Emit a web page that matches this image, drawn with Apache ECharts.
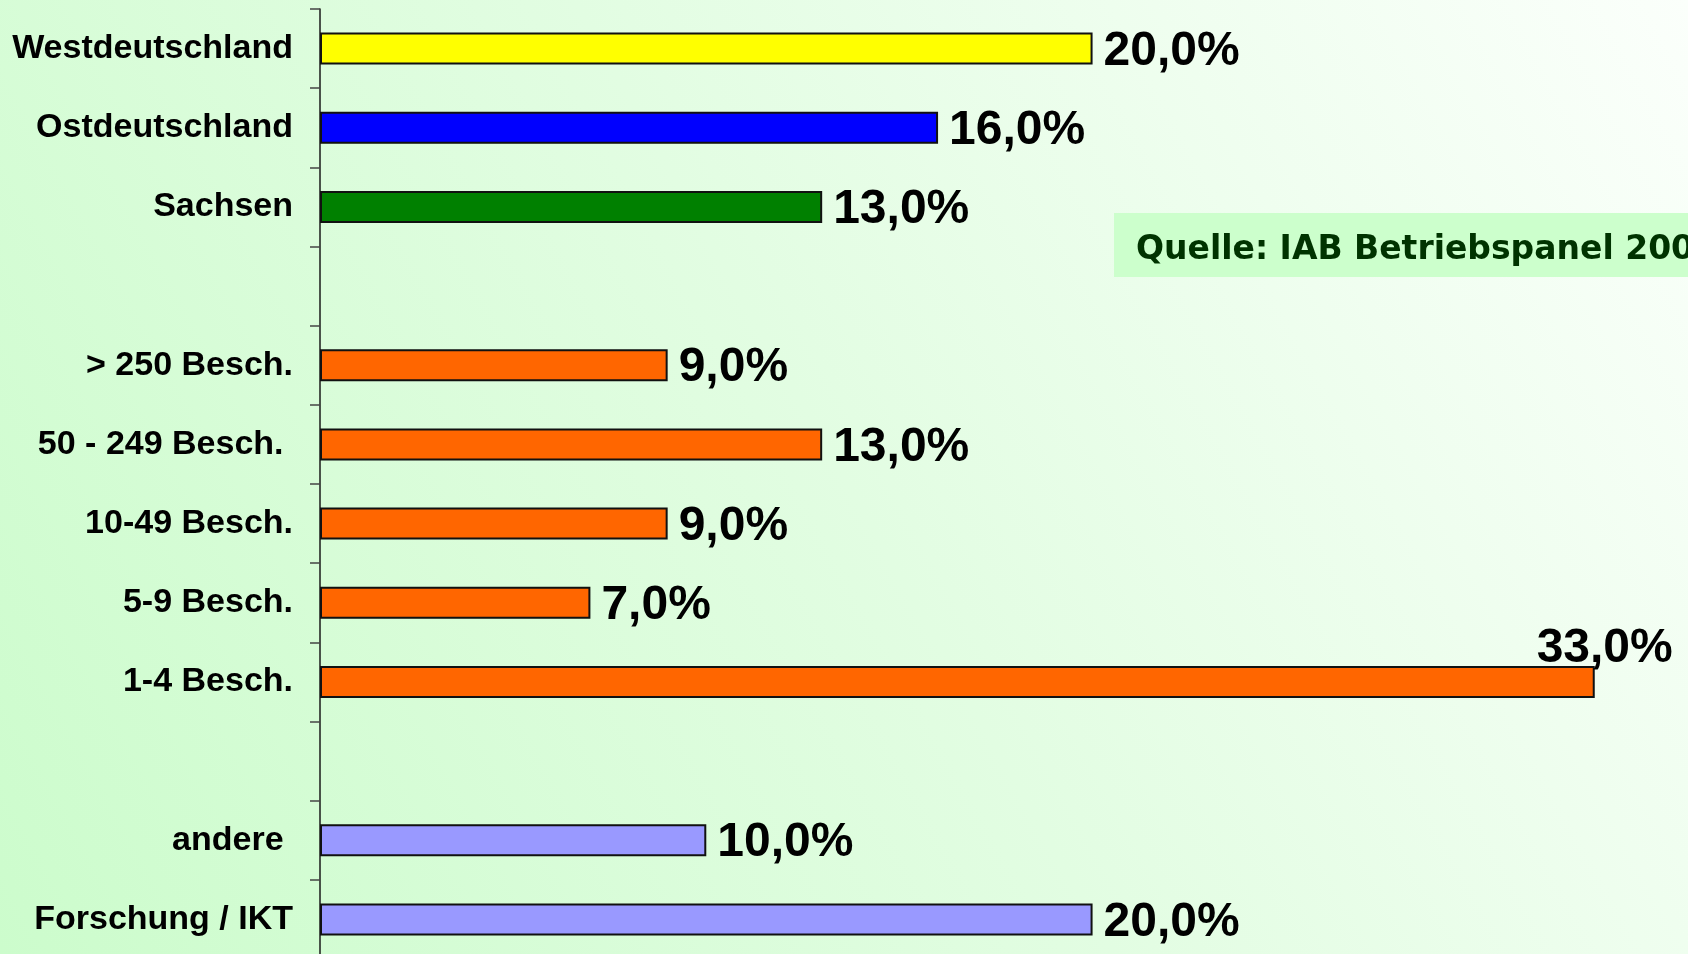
<!DOCTYPE html>
<html>
<head>
<meta charset="utf-8">
<script src="https://cdn.jsdelivr.net/npm/echarts@6/dist/echarts.min.js"></script>
<style>
html,body{margin:0;padding:0;}
#chart{width:1688px;height:954px;}
</style>
</head>
<body>
<div id="chart"></div>
<script>
const categories = ["Westdeutschland", "Ostdeutschland", "Sachsen", " ", "> 250 Besch.", "50 - 249 Besch. ", "10-49 Besch.", "5-9 Besch.", "1-4 Besch.", "  ", "andere ", "Forschung / IKT"];
const values = [20, 16, 13, null, 9, 13, 9, 7, 33, null, 10, 20];
const barColors = ["#ffff00", "#0000ff", "#008000", null, "#ff6600", "#ff6600", "#ff6600", "#ff6600", "#ff6600", null, "#9999ff", "#9999ff"];
const sourceText = "Quelle: IAB Betriebspanel 2006";

const chart = echarts.init(document.getElementById('chart'));

const seriesData = values.map((v, i) => {
  const item = { value: v, itemStyle: { color: barColors[i] || '#000' } };
  if (v === 33) {
    item.label = { position: ['100%', 0], align: 'right', verticalAlign: 'bottom', offset: [78, 7] };
  }
  return item;
});

chart.setOption({
  backgroundColor: {
    type: 'linear', x: 1, y: 0, x2: 0, y2: 1,
    colorStops: [
      { offset: 0, color: '#fbfffb' },
      { offset: 0.5, color: '#e2fde2' },
      { offset: 1, color: '#ccfccc' }
    ]
  },
  animation: false,
  grid: { left: 320, width: 1352, top: 9, height: 950, containLabel: false, outerBoundsMode: 'none' },
  xAxis: {
    type: 'value', min: 0, max: 35,
    show: false
  },
  yAxis: {
    type: 'category', inverse: true, data: categories,
    axisLine: { lineStyle: { color: '#1a1a1a', width: 1.5 } },
    axisTick: { show: true, length: 10, lineStyle: { color: '#444', width: 1.5 } },
    axisLabel: {
      margin: 27, color: '#000', fontSize: 34, fontWeight: 'bold',
      padding: [6, 0, 0, 0],
      fontFamily: 'Liberation Sans, Arial, sans-serif'
    },
    splitLine: { show: false }
  },
  series: [{
    type: 'bar',
    data: seriesData,
    barWidth: 32,
    itemStyle: { borderColor: '#111', borderWidth: 2 },
    label: {
      show: true, position: 'right', distance: 11, offset: [0, 3],
      color: '#000', fontSize: 48, fontWeight: 'bold',
      fontFamily: 'Liberation Sans, Arial, sans-serif',
      formatter: p => p.value == null ? '' : p.value.toFixed(1).replace('.', ',') + '%'
    }
  }],
  graphic: [
    {
      type: 'rect', left: 1114, top: 213,
      shape: { width: 600, height: 64 },
      style: { fill: '#ccffcc' }, z: 10
    },
    {
      type: 'text', left: 1136, top: 234, z: 11,
      style: {
        text: sourceText, fill: '#003300',
        font: 'bold 33px "DejaVu Sans", sans-serif'
      }
    }
  ]
});
</script>
</body>
</html>
